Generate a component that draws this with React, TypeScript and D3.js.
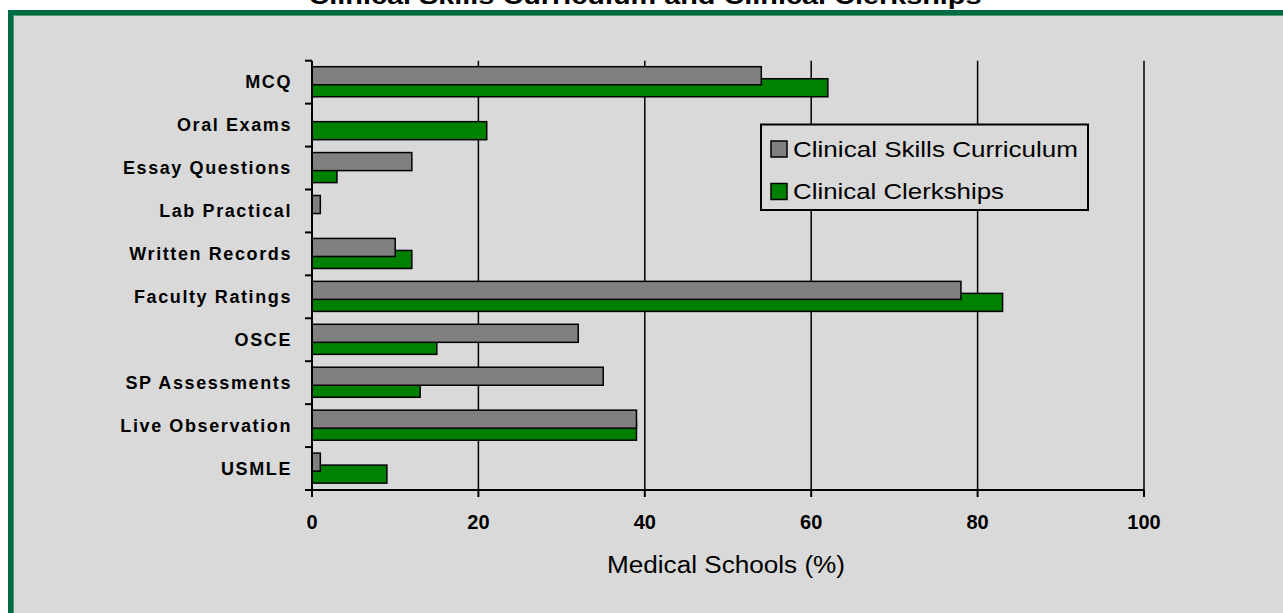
import * as React from 'react';
import * as d3 from 'd3';

const categories = [
  'MCQ',
  'Oral Exams',
  'Essay Questions',
  'Lab Practical',
  'Written Records',
  'Faculty Ratings',
  'OSCE',
  'SP Assessments',
  'Live Observation',
  'USMLE',
];
const skillsCurriculum = [54, 0, 12, 1, 10, 78, 32, 35, 39, 1];
const clerkships = [62, 21, 3, 0, 12, 83, 15, 13, 39, 9];
const xTicks = [0, 20, 40, 60, 80, 100];
const seriesNames = ['Clinical Skills Curriculum', 'Clinical Clerkships'];

const FONT = 'Arial, "Liberation Sans", sans-serif';

const Chart = () => {
  const ref = React.useRef<SVGSVGElement>(null);

  React.useEffect(() => {
    const svg = d3.select(ref.current);
    svg.selectAll('*').remove();

    const left = 312;
    const right = 1144;
    const top = 60.7;
    const bottom = 490;

    const x = d3.scaleLinear().domain([0, 100]).range([left, right]);
    const y = d3.scaleBand<string>().domain(categories).range([top, bottom]);
    const bw = y.bandwidth();

    // frame
    svg
      .append('rect')
      .attr('x', 10.5)
      .attr('y', 12.5)
      .attr('width', 1400)
      .attr('height', 700)
      .attr('fill', '#d9d9d9')
      .attr('stroke', '#006b45')
      .attr('stroke-width', 5);
    svg
      .append('path')
      .attr('d', 'M13.5,1400V15.5H1400')
      .attr('fill', 'none')
      .attr('stroke', '#4f9a73')
      .attr('stroke-width', 1);

    // title (cut at the top, as in the source)
    svg
      .append('text')
      .attr('x', 645)
      .attr('y', 3.5)
      .attr('text-anchor', 'middle')
      .attr('font-family', FONT)
      .attr('font-weight', 'bold')
      .attr('font-size', 24)
      .attr('textLength', 673)
      .attr('lengthAdjust', 'spacingAndGlyphs')
      .text('Clinical Skills Curriculum and Clinical Clerkships');

    // gridlines
    svg
      .append('g')
      .selectAll('line')
      .data(xTicks.filter((d) => d > 0))
      .join('line')
      .attr('x1', (d) => x(d))
      .attr('x2', (d) => x(d))
      .attr('y1', top)
      .attr('y2', bottom)
      .attr('stroke', '#000')
      .attr('stroke-width', 1.5);

    // bars: green first, gray drawn over it
    const bars = svg.append('g').attr('stroke', '#000').attr('stroke-width', 1.5);
    bars
      .selectAll('rect.green')
      .data(categories.map((c, i) => ({ c, v: clerkships[i] })).filter((d) => d.v > 0))
      .join('rect')
      .attr('class', 'green')
      .attr('x', x(0))
      .attr('y', (d) => (y(d.c) as number) + bw * 0.42)
      .attr('width', (d) => x(d.v) - x(0))
      .attr('height', bw * 0.42)
      .attr('fill', '#008000');
    bars
      .selectAll('rect.gray')
      .data(categories.map((c, i) => ({ c, v: skillsCurriculum[i] })).filter((d) => d.v > 0))
      .join('rect')
      .attr('class', 'gray')
      .attr('x', x(0))
      .attr('y', (d) => (y(d.c) as number) + bw * 0.14)
      .attr('width', (d) => x(d.v) - x(0))
      .attr('height', bw * 0.42)
      .attr('fill', '#808080');

    // x axis
    const xa = svg.append('g');
    xa.append('line')
      .attr('x1', left - 7)
      .attr('x2', right)
      .attr('y1', bottom)
      .attr('y2', bottom)
      .attr('stroke', '#000')
      .attr('stroke-width', 2);
    xa.selectAll('line.tick')
      .data(xTicks)
      .join('line')
      .attr('class', 'tick')
      .attr('x1', (d) => x(d))
      .attr('x2', (d) => x(d))
      .attr('y1', bottom)
      .attr('y2', bottom + 7)
      .attr('stroke', '#000')
      .attr('stroke-width', 2);
    xa.selectAll('text')
      .data(xTicks)
      .join('text')
      .attr('x', (d) => x(d))
      .attr('y', 529)
      .attr('text-anchor', 'middle')
      .attr('font-family', FONT)
      .attr('font-weight', 'bold')
      .attr('font-size', 20)
      .text((d) => d);

    svg
      .append('text')
      .attr('x', (left + right) / 2 - 2)
      .attr('y', 573)
      .attr('text-anchor', 'middle')
      .attr('font-family', FONT)
      .attr('font-size', 23)
      .attr('textLength', 238)
      .attr('lengthAdjust', 'spacingAndGlyphs')
      .text('Medical Schools (%)');

    // y axis
    const ya = svg.append('g');
    ya.append('line')
      .attr('x1', left)
      .attr('x2', left)
      .attr('y1', top)
      .attr('y2', bottom + 7)
      .attr('stroke', '#000')
      .attr('stroke-width', 2);
    const edges = categories.map((c) => y(c) as number).concat([bottom]);
    ya.selectAll('line.tick')
      .data(edges)
      .join('line')
      .attr('class', 'tick')
      .attr('x1', left - 7)
      .attr('x2', left)
      .attr('y1', (d) => d)
      .attr('y2', (d) => d)
      .attr('stroke', '#000')
      .attr('stroke-width', 2);
    ya.selectAll('text')
      .data(categories)
      .join('text')
      .attr('x', 292)
      .attr('y', (d) => (y(d) as number) + bw / 2 + 6)
      .attr('text-anchor', 'end')
      .attr('font-family', FONT)
      .attr('font-weight', 'bold')
      .attr('font-size', 18)
      .attr('letter-spacing', 1.6)
      .text((d) => d);

    // legend
    const lg = svg.append('g');
    lg.append('rect')
      .attr('x', 761)
      .attr('y', 124.5)
      .attr('width', 327)
      .attr('height', 85.5)
      .attr('fill', '#d9d9d9')
      .attr('stroke', '#000')
      .attr('stroke-width', 2);
    const colors = ['#808080', '#008000'];
    const lens = [285, 211];
    seriesNames.forEach((name, i) => {
      const yy = 141 + i * 42.5;
      lg.append('rect')
        .attr('x', 771)
        .attr('y', yy)
        .attr('width', 16)
        .attr('height', 16)
        .attr('fill', colors[i])
        .attr('stroke', '#000')
        .attr('stroke-width', 1.5);
      lg.append('text')
        .attr('x', 793)
        .attr('y', yy + 15.5)
        .attr('font-family', FONT)
        .attr('font-size', 22)
        .attr('textLength', lens[i])
        .attr('lengthAdjust', 'spacingAndGlyphs')
        .text(name);
    });
  }, []);

  return (
    <svg
      ref={ref}
      width={1283}
      height={613}
      style={{ position: 'absolute', left: 0, top: 0 }}
    />
  );
};

export default function App() {
  return <Chart />;
}
